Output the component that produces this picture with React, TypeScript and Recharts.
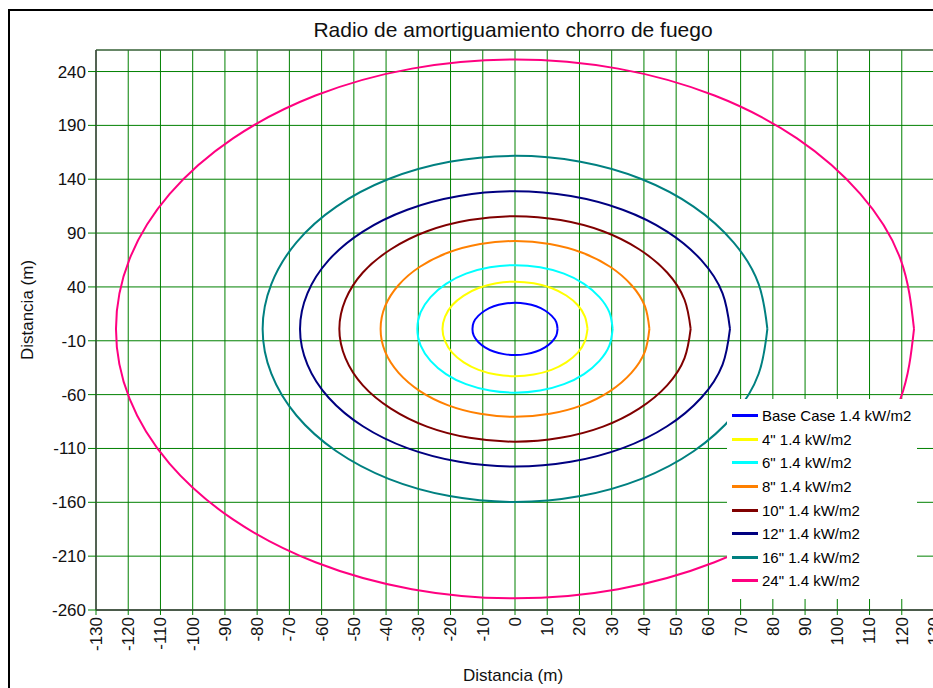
import React from "react";
import {
  LineChart,
  Line,
  XAxis,
  YAxis,
  CartesianGrid,
  Legend,
  ReferenceArea,
} from "recharts";

const FONT = "'Liberation Sans', Arial, sans-serif";

const xTicks = [
  -130, -120, -110, -100, -90, -80, -70, -60, -50, -40, -30, -20, -10, 0, 10,
  20, 30, 40, 50, 60, 70, 80, 90, 100, 110, 120, 130,
];
const yTicks = [-260, -210, -160, -110, -60, -10, 40, 90, 140, 190, 240];

const seriesNames = [
  "Base Case 1.4 kW/m2",
  '4" 1.4 kW/m2',
  '6" 1.4 kW/m2',
  '8" 1.4 kW/m2',
  '10" 1.4 kW/m2',
  '12" 1.4 kW/m2',
  '16" 1.4 kW/m2',
  '24" 1.4 kW/m2',
];
const seriesColors = [
  "#0000FF",
  "#FFFF00",
  "#00FFFF",
  "#FF8000",
  "#800000",
  "#000080",
  "#008080",
  "#FF0080",
];

// contour points [x, y] in metres
const baseCase = [
  [13.2, 1], [12.8, 7.3], [11.4, 13.1], [9.3, 18.1], [6.6, 22.0], [3.4, 24.4],
  [0, 25.2], [-3.4, 24.4], [-6.6, 22.0], [-9.3, 18.1], [-11.4, 13.1], [-12.8, 7.3],
  [-13.2, 1], [-12.8, -5.3], [-11.4, -11.1], [-9.3, -16.1], [-6.6, -20.0], [-3.4, -22.4],
  [0, -23.2], [3.4, -22.4], [6.6, -20.0], [9.3, -16.1], [11.4, -11.1], [12.8, -5.3],
  [13.2, 1],
];
const pipe4 = [
  [22.5, 1], [21.7, 12.4], [19.5, 23.0], [15.9, 32.0], [11.3, 39.0], [5.8, 43.4],
  [0, 44.9], [-5.8, 43.4], [-11.3, 39.0], [-15.9, 32.0], [-19.5, 23.0], [-21.7, 12.4],
  [-22.5, 1], [-21.7, -10.4], [-19.5, -21.0], [-15.9, -30.0], [-11.3, -37.0], [-5.8, -41.4],
  [0, -42.9], [5.8, -41.4], [11.3, -37.0], [15.9, -30.0], [19.5, -21.0], [21.7, -10.4],
  [22.5, 1],
];
const pipe6 = [
  [30.3, 1], [29.3, 16.3], [26.2, 30.6], [21.4, 42.9], [15.2, 52.3], [7.8, 58.2],
  [0, 60.2], [-7.8, 58.2], [-15.2, 52.3], [-21.4, 42.9], [-26.2, 30.6], [-29.3, 16.3],
  [-30.3, 1], [-29.3, -14.3], [-26.2, -28.6], [-21.4, -40.9], [-15.2, -50.3], [-7.8, -56.2],
  [0, -58.2], [7.8, -56.2], [15.2, -50.3], [21.4, -40.9], [26.2, -28.6], [29.3, -14.3],
  [30.3, 1],
];
const pipe8 = [
  [41.7, 1], [40.3, 22.1], [36.1, 41.8], [29.5, 58.7], [20.9, 71.7], [10.8, 79.8],
  [0, 82.6], [-10.8, 79.8], [-20.9, 71.7], [-29.5, 58.7], [-36.1, 41.8], [-40.3, 22.1],
  [-41.7, 1], [-40.3, -20.1], [-36.1, -39.8], [-29.5, -56.7], [-20.9, -69.7], [-10.8, -77.8],
  [0, -80.6], [10.8, -77.8], [20.9, -69.7], [29.5, -56.7], [36.1, -39.8], [40.3, -20.1],
  [41.7, 1],
];
const pipe10 = [
  [54.5, 1], [52.6, 28.1], [47.2, 53.4], [38.5, 75.0], [27.3, 91.7], [14.1, 102.1],
  [0, 105.7], [-14.1, 102.1], [-27.3, 91.7], [-38.5, 75.0], [-47.2, 53.4], [-52.6, 28.1],
  [-54.5, 1], [-52.6, -26.1], [-47.2, -51.4], [-38.5, -73.0], [-27.3, -89.7], [-14.1, -100.1],
  [0, -103.7], [14.1, -100.1], [27.3, -89.7], [38.5, -73.0], [47.2, -51.4], [52.6, -26.1],
  [54.5, 1],
];
const pipe12 = [
  [66.7, 1], [64.4, 34.1], [57.8, 64.9], [47.2, 91.4], [33.4, 111.7], [17.3, 124.4],
  [0, 128.8], [-17.3, 124.4], [-33.4, 111.7], [-47.2, 91.4], [-57.8, 64.9], [-64.4, 34.1],
  [-66.7, 1], [-64.4, -32.1], [-57.8, -62.9], [-47.2, -89.4], [-33.4, -109.7], [-17.3, -122.4],
  [0, -126.8], [17.3, -122.4], [33.4, -109.7], [47.2, -89.4], [57.8, -62.9], [64.4, -32.1],
  [66.7, 1],
];
const pipe16 = [
  [78.3, 1], [75.6, 42.6], [67.8, 81.4], [55.4, 114.6], [39.2, 140.2], [20.3, 156.2],
  [0, 161.7], [-20.3, 156.2], [-39.2, 140.2], [-55.4, 114.6], [-67.8, 81.4], [-75.6, 42.6],
  [-78.3, 1], [-75.6, -40.6], [-67.8, -79.4], [-55.4, -112.6], [-39.2, -138.2], [-20.3, -154.2],
  [0, -159.7], [20.3, -154.2], [39.2, -138.2], [55.4, -112.6], [67.8, -79.4], [75.6, -40.6],
  [78.3, 1],
];
const pipe24 = [
  [123.8, 1], [119.6, 65.8], [107.2, 126.1], [87.5, 177.9], [61.9, 217.7], [32.0, 242.7],
  [0, 251.2], [-32.0, 242.7], [-61.9, 217.7], [-87.5, 177.9], [-107.2, 126.1], [-119.6, 65.8],
  [-123.8, 1], [-119.6, -63.8], [-107.2, -124.1], [-87.5, -175.9], [-61.9, -215.7], [-32.0, -240.7],
  [0, -249.2], [32.0, -240.7], [61.9, -215.7], [87.5, -175.9], [107.2, -124.1], [119.6, -63.8],
  [123.8, 1],
];

const curves = [baseCase, pipe4, pipe6, pipe8, pipe10, pipe12, pipe16, pipe24];

function XTick(props: any) {
  const { x, y, payload } = props;
  return (
    <text
      x={x}
      y={y}
      transform={`rotate(-90 ${x} ${y})`}
      textAnchor="end"
      dy="0.35em"
      fontSize={17}
      fill="#111"
    >
      {payload.value}
    </text>
  );
}

// keep the legend in series order (recharts sorts by name otherwise)
function LegendBox() {
  return (
    <div style={{ paddingTop: 5, fontSize: 15, color: "#000" }}>
      {seriesNames.map((name, i) => (
        <div
          key={name}
          style={{ display: "flex", alignItems: "center", height: 23.6 }}
        >
          <span
            style={{
              display: "inline-block",
              width: 26,
              height: 3,
              marginLeft: 5,
              marginRight: 4,
              background: seriesColors[i],
            }}
          />
          <span>{name}</span>
        </div>
      ))}
    </div>
  );
}

export default function App() {
  return (
    <div
      style={{
        position: "fixed",
        left: 0,
        top: 0,
        width: 933,
        height: 688,
        overflow: "hidden",
        background: "#fff",
        fontFamily: FONT,
      }}
    >
      <div
        style={{
          position: "absolute",
          left: 8,
          top: 9,
          width: 1000,
          height: 1000,
          border: "2px solid #000",
        }}
      />
      <div style={{ position: "absolute", left: 0, top: 0 }}>
        <LineChart
          width={960}
          height={700}
          margin={{ top: 50, right: 26, left: 36, bottom: 50 }}
        >
          <CartesianGrid stroke="#008000" strokeWidth={1} />
          <ReferenceArea
            x1={-130}
            x2={130}
            y1={-260}
            y2={260}
            fill="none"
            stroke="#505050"
            strokeWidth={1}
            ifOverflow="visible"
          />
          <XAxis
            dataKey="x"
            type="number"
            domain={[-130, 130]}
            ticks={xTicks}
            interval={0}
            height={40}
            tickSize={5}
            tickMargin={2}
            tickLine={{ stroke: "#008000" }}
            axisLine={{ stroke: "#303030" }}
            tick={<XTick />}
          />
          <YAxis
            type="number"
            domain={[-260, 260]}
            ticks={yTicks}
            interval={0}
            width={60}
            tickSize={8}
            tickMargin={2}
            tickLine={{ stroke: "#008000" }}
            axisLine={{ stroke: "#404040" }}
            tick={{ fontSize: 17, fill: "#111" }}
          />
          {curves.map((pts, i) => (
            <Line
              key={seriesNames[i]}
              name={seriesNames[i]}
              data={pts.map(([x, y]) => ({ x, y }))}
              dataKey="y"
              type="natural"
              stroke={seriesColors[i]}
              strokeWidth={2}
              dot={false}
              activeDot={false}
              legendType="line"
              isAnimationActive={false}
            />
          ))}
          <Legend
            layout="vertical"
            align="center"
            verticalAlign="middle"
            content={<LegendBox />}
            wrapperStyle={{
              left: 727,
              top: 399,
              width: 190,
              height: 200,
              background: "#fff",
            }}
          />
        </LineChart>
      </div>
      <div
        style={{
          position: "absolute",
          left: 213,
          top: 18,
          width: 600,
          textAlign: "center",
          fontSize: 21,
          color: "#111",
        }}
      >
        Radio de amortiguamiento chorro de fuego
      </div>
      <div
        style={{
          position: "absolute",
          left: 28,
          top: 310,
          transform: "translate(-50%, -50%) rotate(-90deg)",
          whiteSpace: "nowrap",
          fontSize: 17,
          color: "#111",
        }}
      >
        Distancia (m)
      </div>
      <div
        style={{
          position: "absolute",
          left: 513,
          top: 676,
          transform: "translate(-50%, -50%)",
          whiteSpace: "nowrap",
          fontSize: 17,
          color: "#111",
        }}
      >
        Distancia (m)
      </div>
    </div>
  );
}
